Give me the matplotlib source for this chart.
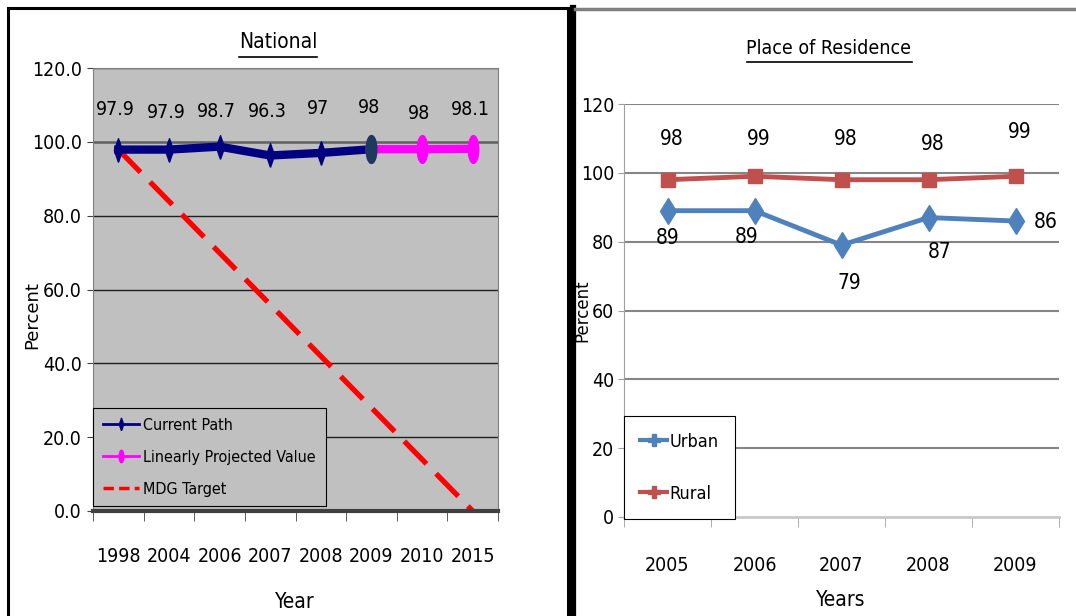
import numpy as np
from matplotlib import pyplot as plt
from matplotlib.lines import Line2D
from matplotlib.patches import Rectangle
import matplotlib.font_manager as fm

# Panel izquierdo: nacional
AÑOS_NAC = ["1998", "2004", "2006", "2007", "2008", "2009", "2010", "2015"]
CAMINO_ACTUAL = [97.9, 97.9, 98.7, 96.3, 97, 98]
PROYECTADO = [98, 98, 98.1]
META_MDG = [97.9, 0]
ETIQUETAS_NAC = ["97.9", "97.9", "98.7", "96.3", "97", "98", "98", "98.1"]

# Panel derecho: lugar de residencia
AÑOS_RES = ["2005", "2006", "2007", "2008", "2009"]
URBANO = [89, 89, 79, 87, 86]
RURAL = [98, 99, 98, 98, 99]

ANCHO, ALTO = 1076, 616

# buscar una fuente angosta; si no hay, Liberation Sans
angostas = [f for f in fm.fontManager.ttflist
            if ("Narrow" in f.name or "ondensed" in f.fname or "Narrow" in f.fname)
            and "Bold" not in f.fname and "Oblique" not in f.fname and "Italic" not in f.fname]
if angostas:
    ANGOSTA = fm.FontProperties(fname=angostas[0].fname)
else:
    ANGOSTA = fm.FontProperties(family="Liberation Sans")


def fp(tam):
    f = ANGOSTA.copy()
    f.set_size(tam)
    return f


fig = plt.figure(figsize=(ANCHO / 100, ALTO / 100), dpi=100)


def caja(x0, y0, x1, y1):
    # convierte pixeles (desde arriba) a fracciones de figura
    return [x0 / ANCHO, 1 - y1 / ALTO, (x1 - x0) / ANCHO, (y1 - y0) / ALTO]


def px(x, y):
    return x / ANCHO, 1 - y / ALTO


def subrayar(texto, y_px):
    fig.canvas.draw()
    bb = texto.get_window_extent(fig.canvas.get_renderer())
    fig.add_artist(Line2D([bb.x0 / ANCHO, bb.x1 / ANCHO], [1 - y_px / ALTO] * 2,
                          transform=fig.transFigure, color="black", lw=1.2))


# marcadores: rombo angosto y elipse
rombo = [(0, -1), (0.35, 0), (0, 1), (-0.35, 0), (0, -1)]
t = np.linspace(0, 2 * np.pi, 40)
elipse = list(zip(0.38 * np.cos(t), np.sin(t)))

# ---------------- panel izquierdo ----------------
ax1 = fig.add_axes(caja(93, 68, 498, 511))
ax1.set_facecolor("#C0C0C0")
x_nac = np.arange(len(AÑOS_NAC))
ax1.set_xlim(-0.5, len(AÑOS_NAC) - 0.5)
ax1.set_ylim(0, 120)

for y in range(20, 121, 20):
    ax1.axhline(y, color="#202020" if y != 100 else "#606060", lw=1 if y != 100 else 1.8, zorder=1)

n_act = len(CAMINO_ACTUAL)
x_meta = [x_nac[0], x_nac[-1]]
ax1.plot(x_meta, META_MDG, color="#FF0000", lw=3.8, dashes=(6, 2.6), zorder=2)
ax1.plot(x_nac[:n_act], CAMINO_ACTUAL, color="#000080", lw=6, marker=rombo, ms=17,
         mfc="#000080", mec="#000080", zorder=3, solid_joinstyle="round")
x_proy = x_nac[n_act - 1:]
ax1.plot(x_proy, PROYECTADO, color="#FF00FF", lw=6, marker=elipse, ms=20,
         mfc="#FF00FF", mec="#FF00FF", zorder=3)
ax1.plot(x_proy[:1], PROYECTADO[:1], linestyle="none", marker=elipse, ms=20,
         mfc="#1B3A5C", mec="#1B3A5C", zorder=4)

valores_nac = CAMINO_ACTUAL + PROYECTADO[1:]
desp_nac = [29, 27, 25, 32, 32, 30, 26, 28]
for xi, v, et, d in zip(x_nac, valores_nac, ETIQUETAS_NAC, desp_nac):
    ax1.annotate(et, (xi, v), xytext=(-2, d), textcoords="offset points",
                 ha="center", va="center", fontproperties=fp(14))

ax1.set_yticks(range(0, 121, 20))
ax1.set_yticklabels([f"{v:.1f}" for v in range(0, 121, 20)], fontproperties=fp(14))
ax1.tick_params(axis="y", length=4, color="#404040", pad=4)
ax1.set_xticks(x_nac)
ax1.set_xticklabels(AÑOS_NAC, fontproperties=fp(14))
ax1.set_xticks(np.arange(-0.5, len(AÑOS_NAC)), minor=True)
ax1.tick_params(axis="x", which="major", length=0, pad=26)
ax1.tick_params(axis="x", which="minor", length=7, color="#404040")
for lado in ["left", "right", "top"]:
    ax1.spines[lado].set_color("#808080")
ax1.spines["bottom"].set_color("#404040")
ax1.spines["bottom"].set_linewidth(3)

manejadores = [
    Line2D([], [], color="#000080", lw=2, marker=rombo, ms=9),
    Line2D([], [], color="#FF00FF", lw=2, marker=elipse, ms=9),
    Line2D([], [], color="#FF0000", lw=2.5, dashes=(3, 1.5)),
]
ley1 = ax1.legend(manejadores, ["Current Path", "Linearly Projected Value", "MDG Target"],
                  loc="lower left", bbox_to_anchor=(0, 0.011), prop=fp(11.5),
                  frameon=True, fancybox=False, facecolor="#C0C0C0", edgecolor="black",
                  framealpha=1, borderaxespad=0, labelspacing=1.05, handlelength=2.3,
                  handletextpad=0.25, borderpad=0.6)
ley1.get_frame().set_linewidth(0.8)

t1 = fig.text(*px(278, 42), "National", ha="center", va="center", fontproperties=fp(15))
fig.text(*px(295, 602), "Year", ha="center", va="center", fontproperties=fp(15))
fig.text(*px(32, 315), "Percent", ha="center", va="center", rotation=90,
         fontsize=13, family="DejaVu Sans")

# ---------------- panel derecho ----------------
ax2 = fig.add_axes(caja(624, 104, 1059, 517))
x_res = np.arange(len(AÑOS_RES))
ax2.set_xlim(-0.5, len(AÑOS_RES) - 0.5)
ax2.set_ylim(0, 120)
for y in range(20, 121, 20):
    ax2.axhline(y, color="#868686", lw=1.5, zorder=1)

ax2.plot(x_res, URBANO, color="#4F81BD", lw=3.5, marker="d", ms=13, zorder=3)
ax2.plot(x_res, RURAL, color="#C0504D", lw=3.5, marker="s", ms=10, zorder=3)

desp_rural = [(3, 29), (3, 27), (3, 29), (3, 26), (3, 32)]
desp_urbano = [(0, -20), (-6, -19), (6, -27), (8, -25), (22, -1)]
for xi, v, d in zip(x_res, RURAL, desp_rural):
    ax2.annotate(str(v), (xi, v), xytext=d, textcoords="offset points",
                 ha="center", va="center", fontproperties=fp(15))
for xi, v, d in zip(x_res, URBANO, desp_urbano):
    ax2.annotate(str(v), (xi, v), xytext=d, textcoords="offset points",
                 ha="center", va="center", fontproperties=fp(15))

ax2.set_yticks(range(0, 121, 20))
ax2.set_yticklabels([str(v) for v in range(0, 121, 20)], fontproperties=fp(14))
ax2.tick_params(axis="y", length=4, color="#A0A0A0", pad=3)
ax2.set_xticks(x_res)
ax2.set_xticklabels(AÑOS_RES, fontproperties=fp(14))
ax2.set_xticks(np.arange(-0.5, len(AÑOS_RES)), minor=True)
ax2.tick_params(axis="x", which="major", length=0, pad=28)
ax2.tick_params(axis="x", which="minor", length=7, color="#A0A0A0")
ax2.spines["top"].set_visible(False)
ax2.spines["right"].set_visible(False)
ax2.spines["left"].set_color("#A0A0A0")
ax2.spines["bottom"].set_color("#C8C8C8")
ax2.spines["bottom"].set_linewidth(2)

manejadores2 = [
    Line2D([], [], color="#4F81BD", lw=3, marker="P", ms=9),
    Line2D([], [], color="#C0504D", lw=3, marker="P", ms=9),
]
ley2 = ax2.legend(manejadores2, ["Urban", "Rural"], loc="lower left",
                  bbox_to_anchor=(0, -0.005), prop=fp(13), frameon=True,
                  fancybox=False, facecolor="white", edgecolor="black", framealpha=1,
                  borderaxespad=0, labelspacing=1.9, handlelength=1.5,
                  handletextpad=0.1, borderpad=0.9)
ley2.get_frame().set_linewidth(0.8)

t2 = fig.text(*px(829, 49), "Place of Residence", ha="center", va="center", fontproperties=fp(14))
fig.text(*px(841, 600), "Years", ha="center", va="center", fontproperties=fp(15))
fig.text(*px(582, 311), "Percent", ha="center", va="center", rotation=90,
         fontsize=12, family="DejaVu Sans")

# marcos de los paneles
fig.add_artist(Rectangle((8 / ANCHO, -0.02), 560 / ANCHO, 1.02 - 8 / ALTO,
                         transform=fig.transFigure, fill=False, ec="black", lw=2.2))
fig.add_artist(Line2D([573 / ANCHO] * 2, [0, 1 - 8 / ALTO], transform=fig.transFigure,
                      color="black", lw=4.5))
fig.add_artist(Line2D([575 / ANCHO, 1], [1 - 9 / ALTO] * 2, transform=fig.transFigure,
                      color="#808080", lw=2.5))

subrayar(t1, 57)
subrayar(t2, 62)

fig.savefig("out.png", dpi=100)
